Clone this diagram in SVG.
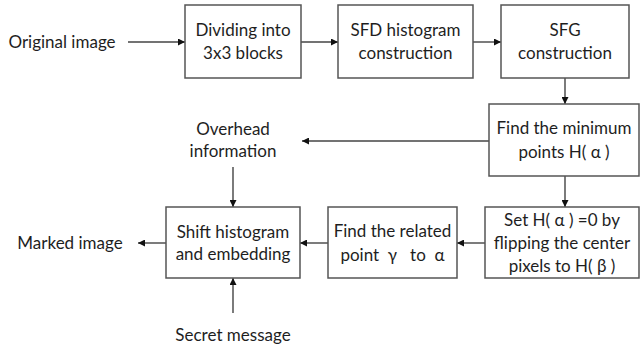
<svg xmlns="http://www.w3.org/2000/svg" width="641" height="347" viewBox="0 0 641 347">
<style>
.box{fill:#fff;stroke:#555;stroke-width:1.5}
.t{font-family:Lato,"Open Sans",sans-serif;font-size:17px;fill:#1e1e1e;text-anchor:middle}
.c{stroke:#444;stroke-width:1.4;fill:none;marker-end:url(#ah)}
</style>
<defs>
<marker id="ah" viewBox="0 0 10 10" refX="10" refY="5" markerWidth="7" markerHeight="7" markerUnits="userSpaceOnUse" orient="auto">
<path d="M0,0 L10,5 L0,10 z" fill="#111"/>
</marker>
</defs>
<rect width="641" height="347" fill="#fff"/>
<g id="connectors">
<line class="c" x1="128" y1="42" x2="185" y2="42"/>
<line class="c" x1="301" y1="42" x2="338" y2="42"/>
<line class="c" x1="473" y1="42" x2="501" y2="42"/>
<line class="c" x1="565" y1="78" x2="565" y2="104"/>
<line class="c" x1="489" y1="141" x2="302" y2="141"/>
<line class="c" x1="233" y1="167" x2="233" y2="207"/>
<line class="c" x1="565" y1="176" x2="565" y2="207"/>
<line class="c" x1="485" y1="243" x2="457" y2="243"/>
<line class="c" x1="328" y1="243" x2="300" y2="243"/>
<line class="c" x1="166" y1="243" x2="138" y2="243"/>
<line class="c" x1="233" y1="313" x2="233" y2="278"/>
</g>
<g id="original"><text class="t" x="62" y="48">Original image</text></g>
<g id="divide"><rect class="box" x="185" y="5" width="116" height="73"/>
<text class="t" x="243" y="36">Dividing into</text><text class="t" x="243" y="59">3x3 blocks</text></g>
<g id="sfd"><rect class="box" x="338" y="5" width="135" height="73"/>
<text class="t" x="405.5" y="36">SFD histogram</text><text class="t" x="405.5" y="59">construction</text></g>
<g id="sfg"><rect class="box" x="501" y="5" width="128" height="73"/>
<text class="t" x="565" y="36">SFG</text><text class="t" x="565" y="59">construction</text></g>
<g id="findmin"><rect class="box" x="489" y="104" width="150" height="72"/>
<text class="t" x="564" y="134">Find the minimum</text><text class="t" x="564" y="158">points H( α )</text></g>
<g id="overhead"><text class="t" x="233" y="135">Overhead</text><text class="t" x="233" y="157">information</text></g>
<g id="set"><rect class="box" x="485" y="207" width="154" height="71"/>
<text class="t" x="562" y="226">Set H( α ) =0 by</text><text class="t" x="562" y="249">flipping the center</text><text class="t" x="562" y="272">pixels to H( β )</text></g>
<g id="related"><rect class="box" x="328" y="207" width="129" height="71"/>
<text class="t" x="392.5" y="237">Find the related</text><text class="t" x="392.5" y="261" xml:space="preserve" style="white-space:pre">point  γ   to  α</text></g>
<g id="shift"><rect class="box" x="166" y="207" width="134" height="71"/>
<text class="t" x="233" y="238">Shift histogram</text><text class="t" x="233" y="260">and embedding</text></g>
<g id="marked"><text class="t" x="70" y="249">Marked image</text></g>
<g id="secret"><text class="t" x="233" y="341">Secret message</text></g>
</svg>
